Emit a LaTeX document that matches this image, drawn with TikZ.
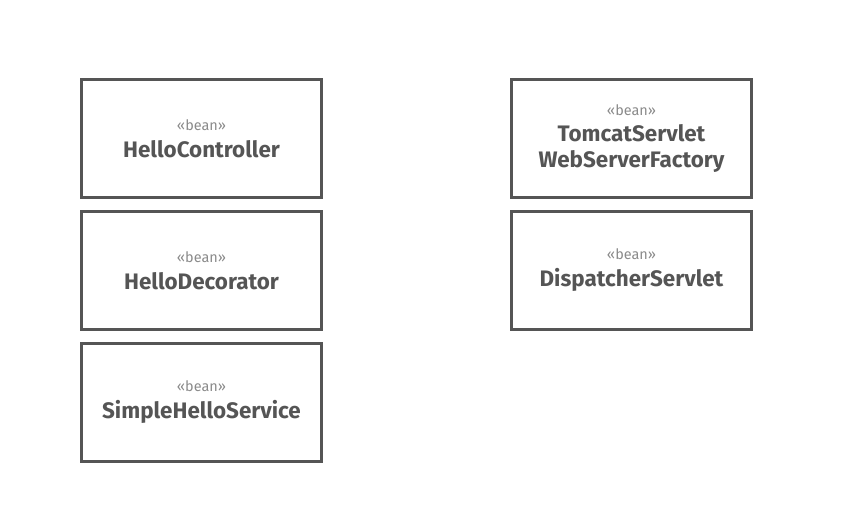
\documentclass[tikz,border=0pt]{standalone}
\usepackage{fontspec}
\setmainfont{Fira Sans}
\usetikzlibrary{positioning}

\begin{document}
\begin{tikzpicture}[x=1bp,y=1bp,every node/.style={inner sep=0,align=center}]
\path[use as bounding box] (0,0) rectangle (850,526);
\definecolor{frame}{HTML}{555555}
\definecolor{stereo}{HTML}{8A8A8A}
\tikzset{beanbox/.style={draw=frame,line width=3bp,minimum width=240bp,minimum height=118bp,text=frame,font=\fontsize{22.5}{26}\selectfont\bfseries}}
\newcommand{\bean}{{\fontsize{14.5}{16}\selectfont\mdseries\color{stereo}\guillemotleft bean\guillemotright}\\[1pt]}
\node[beanbox] (ctrl) at (201.5,387.5) {\bean HelloController};
\node[beanbox,below=11bp of ctrl] (deco) {\bean HelloDecorator};
\node[beanbox,below=11bp of deco] (svc) {\bean SimpleHelloService};
\node[beanbox] (tomcat) at (631.5,387.5) {\bean TomcatServlet\\WebServerFactory};
\node[beanbox,below=11bp of tomcat] (disp) {\bean DispatcherServlet};
\end{tikzpicture}
\end{document}
